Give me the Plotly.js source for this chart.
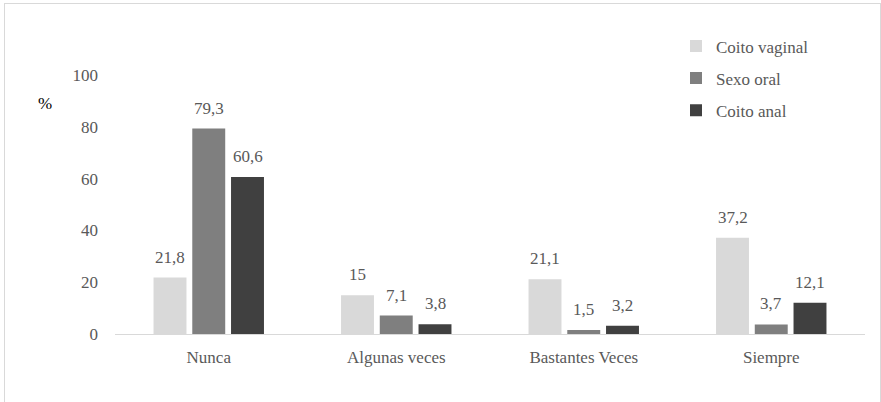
<!DOCTYPE html>
<html>
<head>
<meta charset="utf-8">
<script src="https://cdn.plot.ly/plotly-3.0.1.min.js"></script>
<style>
  html, body { margin: 0; padding: 0; background: #fff; }
  #chart { width: 875px; height: 408px; margin-left: 4px; margin-top: 3px;
           border: 1px solid #d9d9d9; }
  #chart text { font-family: "Liberation Serif" !important; }
</style>
</head>
<body>
<div id="chart"></div>
<script>
const categories = ["Nunca", "Algunas veces", "Bastantes Veces", "Siempre"];
const seriesNames = ["Coito vaginal", "Sexo oral", "Coito anal"];
const coitoVaginal = [21.8, 15, 21.1, 37.2];
const sexoOral = [79.3, 7.1, 1.5, 3.7];
const coitoAnal = [60.6, 3.8, 3.2, 12.1];
const yTicks = [0, 20, 40, 60, 80, 100];

const seriesValues = [coitoVaginal, sexoOral, coitoAnal];
const colors = ["#d9d9d9", "#7f7f7f", "#404040"];
const bargap = 0.38;
const nSeries = seriesValues.length;

const traces = seriesValues.map((vals, i) => ({
  type: "bar",
  name: seriesNames[i],
  x: categories,
  y: vals,
  marker: { color: colors[i] },
  legendgroup: "g" + i,
  hoverinfo: "skip"
}));

// value labels above each bar (positioned through the x/y axes)
const fmt = v => String(v).replace(".", ",");
const labelAnnotations = [];
seriesValues.forEach((vals, i) => {
  const offset = (i - (nSeries - 1) / 2) * (1 - bargap) / nSeries;
  vals.forEach((v, j) => {
    labelAnnotations.push({
      x: j + offset, y: v, xref: "x", yref: "y",
      text: fmt(v), showarrow: false,
      xanchor: "center", yanchor: "bottom", yshift: 9,
      font: { family: "Liberation Serif", size: 17, color: "#595959" }
    });
  });
});

Plotly.newPlot("chart", traces, {
  width: 875, height: 408,
  margin: { l: 110, r: 15, t: 71, b: 78 },
  barmode: "group",
  bargap: bargap,
  bargroupgap: 0.15,
  font: { family: "Liberation Serif", size: 17, color: "#595959" },
  xaxis: {
    type: "category",
    showline: true, linecolor: "#d9d9d9", linewidth: 1,
    ticks: "", showgrid: false, zeroline: false,
    tickfont: { family: "Liberation Serif", size: 17, color: "#595959" },
    ticklabelstandoff: 8
  },
  yaxis: {
    range: [0, 100], tickvals: yTicks, ticktext: yTicks.map(String),
    showline: false, showgrid: false, zeroline: false, ticks: "",
    tickfont: { family: "Liberation Serif", size: 17, color: "#595959" },
    ticklabelstandoff: 16
  },
  showlegend: true,
  legend: {
    x: 0.748, xanchor: "left", y: 1.18, yanchor: "top",
    font: { family: "Liberation Serif", size: 17, color: "#595959" },
    tracegroupgap: 7, traceorder: "grouped", itemwidth: 30
  },
  annotations: [{
    text: "%", xref: "paper", yref: "paper", x: -0.093, y: 0.89,
    xanchor: "center", yanchor: "middle", showarrow: false,
    font: { family: "Liberation Serif", size: 17, color: "#000" }
  }].concat(labelAnnotations)
}, { displayModeBar: false, staticPlot: true });
</script>
</body>
</html>
